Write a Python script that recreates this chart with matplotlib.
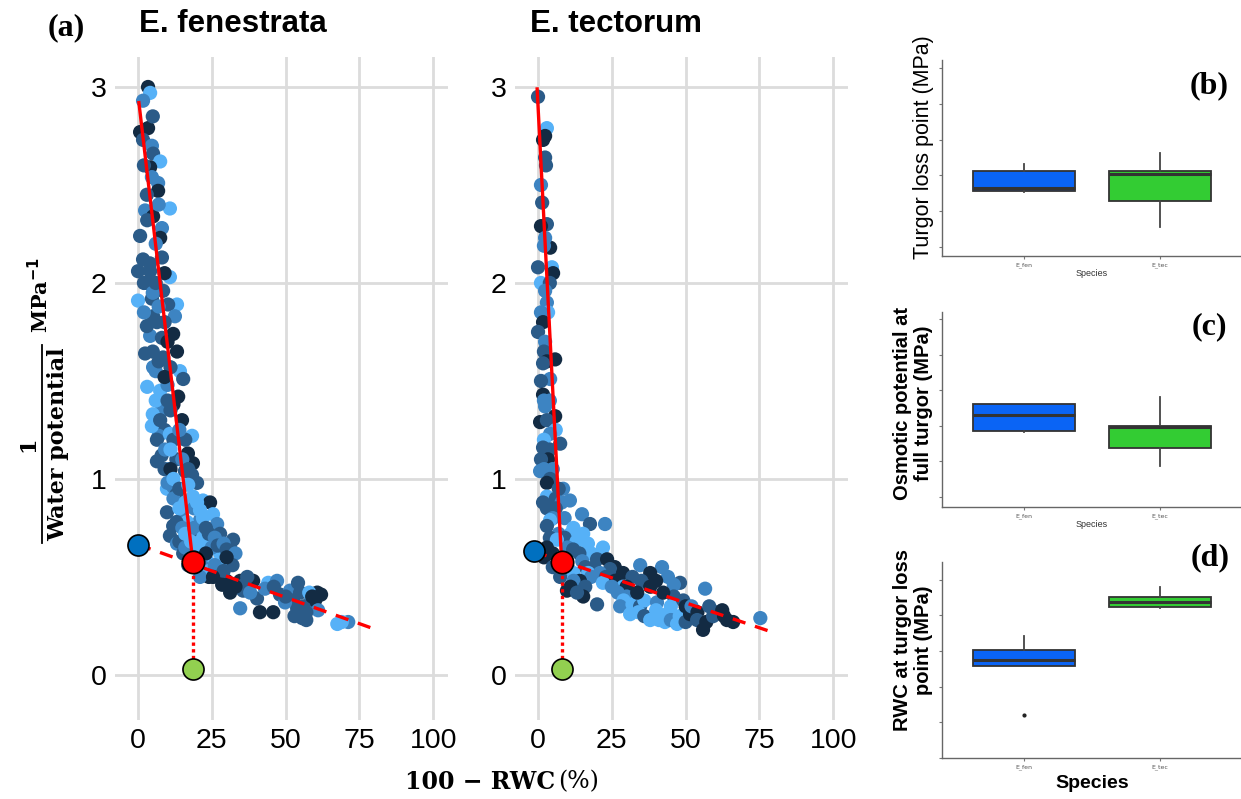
import numpy as np
import matplotlib
matplotlib.use("Agg")
import matplotlib.pyplot as plt

# pressure-volume curve points: (100 - RWC, 1/WP, shade)
fen_pts = [
    (3.4, 3.00, 0), (4.1, 2.97, 3), (1.7, 2.93, 2), (0.7, 2.77, 0), (3.4, 2.79, 0),
    (1.7, 2.73, 1), (4.7, 2.70, 2), (5.1, 2.66, 1), (7.5, 2.62, 3), (4.1, 2.59, 0),
    (4.7, 2.54, 2), (6.8, 2.51, 2), (6.8, 2.47, 0), (10.8, 2.38, 3), (2.4, 2.37, 2),
    (5.1, 2.34, 0), (3.1, 2.32, 1), (8.1, 2.28, 2), (0.7, 2.24, 1), (7.5, 2.23, 0),
    (8.1, 2.13, 1), (1.7, 2.12, 1), (0.0, 2.06, 1), (4.1, 2.06, 1), (3.1, 2.00, 1),
    (10.8, 2.03, 3), (8.5, 1.96, 1), (0.0, 1.91, 3), (4.7, 1.92, 1), (13.2, 1.89, 3),
    (10.2, 1.89, 1), (5.1, 1.83, 1), (12.5, 1.83, 2), (6.4, 1.80, 1), (11.9, 1.74, 0),
    (4.1, 1.73, 2), (8.1, 1.72, 1), (13.2, 1.65, 0), (2.4, 1.64, 1), (8.5, 1.62, 1),
    (5.1, 1.57, 2), (14.2, 1.55, 3), (15.3, 1.51, 1), (3.1, 1.47, 3), (7.5, 1.45, 3),
    (13.6, 1.42, 0), (3.0, 2.45, 1), (6.0, 2.20, 2), (2.0, 2.00, 1), (9.0, 2.05, 0),
    (7.0, 1.88, 2), (11.0, 1.57, 1), (10.0, 1.48, 2), (8.0, 1.35, 2), (9.0, 1.25, 1),
    (12.0, 1.38, 0), (6.0, 1.40, 3), (5.0, 2.85, 1), (2.0, 2.60, 1), (7.0, 2.40, 2),
    (4.0, 2.10, 1), (5.0, 1.95, 2), (6.0, 2.00, 1), (9.0, 1.80, 1), (10.0, 1.70, 0),
    (2.0, 1.85, 2), (3.0, 1.78, 1), (5.0, 1.65, 1), (6.0, 1.55, 2), (7.0, 1.60, 1),
    (9.0, 1.52, 0), (10.0, 1.40, 1), (5.0, 1.33, 3), (7.0, 1.22, 2), (8.0, 1.12, 1),
    (4.7, 1.27, 3), (7.5, 1.30, 1), (14.9, 1.30, 0), (6.4, 1.20, 1), (10.8, 1.23, 3),
    (18.3, 1.22, 3), (6.4, 1.09, 1), (9.2, 1.15, 2), (16.9, 1.13, 0), (18.6, 1.08, 0),
    (10.2, 1.05, 3), (15.9, 1.04, 1), (18.3, 1.02, 1), (20.0, 0.98, 1), (9.8, 0.95, 3),
    (11.9, 0.96, 2), (22.0, 0.89, 3), (18.6, 0.91, 3), (24.4, 0.88, 0), (9.8, 0.83, 1),
    (14.9, 0.84, 2), (25.4, 0.82, 3), (21.0, 0.79, 2), (11.9, 0.76, 1), (16.6, 0.78, 3),
    (26.8, 0.77, 2), (10.8, 0.71, 1), (21.0, 0.72, 1), (27.8, 0.72, 1), (32.2, 0.69, 1),
    (31.2, 0.65, 1), (13.2, 0.67, 2), (23.4, 0.67, 3), (15.3, 0.62, 1), (27.8, 0.62, 3),
    (31.2, 0.57, 2), (23.4, 0.58, 3), (12.0, 1.20, 1), (13.0, 1.10, 1), (11.0, 1.15, 3),
    (16.0, 1.20, 1), (15.0, 1.10, 2), (17.0, 1.05, 1), (14.0, 1.25, 2), (11.0, 1.35, 1),
    (9.0, 1.05, 1), (10.0, 0.98, 2), (11.0, 1.05, 0), (12.0, 1.00, 3), (13.0, 0.92, 1),
    (12.0, 0.90, 2), (14.0, 0.95, 1), (16.0, 0.88, 3), (19.0, 0.85, 2), (17.0, 0.97, 3),
    (14.0, 0.85, 3), (13.0, 0.78, 1), (15.0, 0.75, 2), (14.0, 0.68, 1), (16.0, 0.65, 2),
    (16.0, 0.72, 3), (19.0, 0.75, 2), (22.0, 0.70, 3), (25.0, 0.65, 2), (20.0, 0.65, 3),
    (18.0, 0.68, 3), (20.0, 0.88, 3), (21.0, 0.84, 3), (22.0, 0.80, 3), (23.0, 0.75, 1),
    (24.0, 0.72, 1), (26.0, 0.70, 2), (27.0, 0.66, 1), (29.0, 0.67, 2), (30.0, 0.64, 1),
    (33.0, 0.62, 2), (32.0, 0.56, 1), (27.0, 0.52, 0), (24.0, 0.50, 0), (30.0, 0.48, 0),
    (23.0, 0.62, 0), (28.0, 0.58, 3), (30.0, 0.60, 0), (19.0, 0.60, 1), (17.0, 0.56, 1),
    (22.0, 0.55, 2), (24.0, 0.53, 3), (26.0, 0.56, 2), (29.0, 0.53, 1),
    (21.0, 0.50, 2), (25.4, 0.50, 0), (28.5, 0.46, 0), (31.2, 0.42, 0), (34.6, 0.48, 0),
    (39.0, 0.48, 0), (35.6, 0.43, 1), (40.3, 0.39, 1), (34.6, 0.34, 2), (41.3, 0.32, 0),
    (45.8, 0.32, 0), (44.1, 0.47, 3), (47.1, 0.48, 2), (48.1, 0.41, 1), (51.5, 0.43, 2),
    (54.2, 0.47, 1), (52.5, 0.38, 1), (53.9, 0.34, 1), (55.6, 0.29, 1), (58.3, 0.37, 2),
    (60.7, 0.42, 0), (60.0, 0.38, 0), (61.0, 0.33, 2), (54.9, 0.42, 1), (67.5, 0.26, 3),
    (71.2, 0.27, 2), (49.8, 0.37, 2), (36.0, 0.46, 1), (38.0, 0.42, 2), (57.0, 0.32, 1),
    (58.0, 0.42, 3), (33.0, 0.45, 0), (37.0, 0.50, 1), (43.0, 0.44, 2), (46.0, 0.45, 1),
    (50.0, 0.40, 1), (56.0, 0.35, 1), (59.0, 0.40, 0), (62.0, 0.41, 0), (53.0, 0.30, 1),
    (57.0, 0.28, 1), (69.0, 0.27, 3),
]

tec_pts = [
    (0.0, 2.95, 1), (3.0, 2.79, 3), (2.4, 2.75, 0), (1.7, 2.73, 0), (2.4, 2.64, 1),
    (2.7, 2.60, 1), (1.0, 2.50, 2), (1.4, 2.41, 1), (3.0, 2.30, 1), (1.0, 2.29, 0),
    (4.1, 2.18, 0), (2.0, 2.19, 2), (2.4, 2.23, 2), (0.0, 2.08, 1), (4.7, 2.08, 3),
    (5.1, 2.05, 0), (1.0, 2.00, 3), (4.0, 2.00, 1), (2.4, 1.96, 2), (3.0, 1.90, 2),
    (3.4, 1.85, 3), (1.0, 1.85, 2), (1.7, 1.80, 0), (0.0, 1.75, 1), (2.4, 1.70, 2),
    (2.0, 1.65, 1), (5.8, 1.61, 0), (3.0, 1.60, 0), (1.7, 1.59, 1), (4.1, 1.51, 2),
    (1.0, 1.50, 1), (1.7, 1.43, 0), (4.0, 1.40, 2), (2.0, 1.40, 2), (2.4, 1.37, 2),
    (0.7, 1.29, 0), (5.8, 1.32, 0), (3.0, 1.30, 1), (6.0, 1.25, 3), (4.1, 1.23, 2),
    (2.0, 1.20, 3), (7.5, 1.18, 1), (1.7, 1.16, 1), (4.0, 1.15, 1), (3.4, 1.10, 0),
    (1.0, 1.10, 1), (5.0, 1.05, 2), (2.0, 1.05, 2), (0.7, 1.04, 2), (4.1, 1.00, 1),
    (3.0, 0.98, 0), (8.5, 0.95, 2), (7.0, 0.95, 1), (3.0, 0.91, 3), (6.0, 0.90, 1),
    (10.8, 0.89, 2), (8.0, 0.88, 2), (1.7, 0.88, 1), (6.0, 0.85, 1), (3.0, 0.85, 1),
    (14.9, 0.82, 2), (5.0, 0.80, 2), (9.0, 0.80, 2), (17.6, 0.77, 1), (22.7, 0.77, 2),
    (4.1, 0.79, 3), (3.0, 0.76, 1), (12.0, 0.75, 3), (15.3, 0.72, 3), (7.0, 0.72, 2),
    (11.0, 0.72, 3), (4.0, 0.70, 1), (9.0, 0.70, 1), (16.9, 0.67, 3), (13.0, 0.68, 3),
    (22.0, 0.65, 3), (6.4, 0.69, 3), (3.0, 0.65, 0), (10.0, 0.65, 2), (11.9, 0.64, 1),
    (18.0, 0.62, 3), (14.0, 0.62, 1), (5.0, 0.62, 0), (2.0, 0.60, 0), (8.0, 0.60, 2),
    (20.0, 0.59, 1), (23.4, 0.59, 0), (15.0, 0.58, 2), (10.0, 0.55, 1), (16.0, 0.55, 1),
    (19.0, 0.55, 1), (5.0, 0.55, 1), (26.0, 0.55, 0), (24.4, 0.54, 1), (12.0, 0.52, 3),
    (17.0, 0.52, 3), (21.0, 0.52, 2), (28.8, 0.52, 0), (34.6, 0.56, 2), (42.0, 0.55, 2),
    (38.0, 0.52, 0), (32.0, 0.50, 1), (44.0, 0.50, 2), (23.0, 0.50, 1), (48.1, 0.47, 1),
    (56.6, 0.44, 2), (7.5, 0.50, 1), (18.0, 0.50, 2), (14.2, 0.48, 0), (12.0, 0.48, 2),
    (26.0, 0.48, 0), (35.0, 0.48, 1), (40.0, 0.48, 0), (22.0, 0.47, 3), (46.0, 0.46, 2),
    (28.8, 0.45, 3), (25.0, 0.45, 2), (16.0, 0.45, 1), (11.0, 0.45, 0), (30.0, 0.45, 0),
    (9.8, 0.43, 0), (15.3, 0.40, 0), (13.2, 0.42, 1), (27.0, 0.42, 2), (46.0, 0.40, 1),
    (20.0, 0.36, 1), (30.0, 0.40, 2), (29.0, 0.38, 3), (27.8, 0.35, 2), (32.0, 0.36, 3),
    (31.2, 0.31, 3), (34.6, 0.35, 1), (34.0, 0.32, 3), (36.0, 0.30, 1), (36.0, 0.38, 3),
    (38.0, 0.28, 3), (40.3, 0.37, 2), (40.0, 0.33, 3), (41.0, 0.28, 3), (43.7, 0.31, 3),
    (43.0, 0.27, 3), (45.0, 0.35, 3), (45.0, 0.28, 2), (47.1, 0.26, 3), (48.0, 0.30, 3),
    (42.4, 0.42, 0), (38.0, 0.45, 0), (33.6, 0.42, 0), (49.2, 0.38, 1), (50.0, 0.35, 0),
    (50.0, 0.27, 1), (51.5, 0.31, 0), (52.0, 0.35, 2), (54.0, 0.32, 0), (53.9, 0.28, 1),
    (55.9, 0.23, 0), (57.0, 0.27, 0), (58.0, 0.35, 1), (59.3, 0.30, 1), (60.0, 0.32, 1),
    (62.4, 0.33, 0), (63.0, 0.30, 0), (64.0, 0.28, 0), (66.1, 0.27, 0), (75.3, 0.29, 2),
]

# fitted lines: turgor-loss point, full-turgor intercept, end of linear part
fen_tlp = (18.6, 0.575)
fen_top = (0.3, 2.92)
fen_int = (0.0, 0.665)
fen_end = (79.0, 0.24)
tec_tlp = (8.0, 0.575)
tec_top = (-0.3, 2.99)
tec_int = (-1.4, 0.63)
tec_end = (79.0, 0.22)
green_y = 0.03

shades = ["#132b43", "#2b5b88", "#3d84c2", "#56b1f7"]

# box-plot summaries (panels b, c, d), in arbitrary axis units
species = ["E_fen", "E_tec"]
tlp_box = [(1.54, 1.56, 1.65, 2.12, 2.32), (0.56, 1.28, 2.04, 2.12, 2.63)]
opft_box = [(1.83, 1.85, 2.30, 2.61, 2.61), (0.87, 1.38, 1.97, 1.99, 2.81)]
rwc_box = [(2.58, 2.58, 2.75, 3.03, 3.42), (4.20, 4.23, 4.37, 4.51, 4.79)]
rwc_fliers = [[1.20], []]
box_colors = ["#0a64f5", "#33cc33"]

W, H = 1241, 799
fig = plt.figure(figsize=(W / 100, H / 100), dpi=100)


def fpos(x0, y0, x1, y1):
    # pixel box -> figure fraction rect
    return [x0 / W, 1 - y1 / H, (x1 - x0) / W, (y1 - y0) / H]


def pv_panel(rect, pts, top, tlp, icpt, end, title, tx):
    ax = fig.add_axes(rect)
    d = np.array(pts)
    cols = [shades[int(c)] for c in d[:, 2]]
    ax.scatter(d[:, 0], d[:, 1], s=105, c=cols, linewidths=0, zorder=2)
    ax.plot([top[0], tlp[0]], [top[1], tlp[1]], color="red", lw=2.4, zorder=3)
    ax.plot([icpt[0], end[0]], [icpt[1], end[1]], color="red", lw=2.4,
            ls=(0, (4, 3)), zorder=3)
    ax.plot([tlp[0], tlp[0]], [tlp[1], green_y], color="red", lw=2.4,
            ls=(0, (1, 1)), zorder=3)
    ax.scatter([icpt[0]], [icpt[1]], s=230, color="#0070c0", edgecolors="black",
               linewidths=1.2, zorder=4)
    ax.scatter([tlp[0]], [tlp[1]], s=260, color="#ff0000", edgecolors="black",
               linewidths=1.2, zorder=4)
    ax.scatter([tlp[0]], [green_y], s=230, color="#92d050", edgecolors="black",
               linewidths=1.2, zorder=4)
    ax.set_xlim(-7.8, 105)
    ax.set_ylim(-0.23, 3.153)
    ax.set_xticks([0, 25, 50, 75, 100])
    ax.set_yticks([0, 1, 2, 3])
    ax.grid(True, color="#dcdcdc", lw=2)
    ax.set_axisbelow(True)
    for s in ax.spines.values():
        s.set_visible(False)
    ax.tick_params(length=0, labelsize=20.5, pad=6)
    for lab in ax.get_xticklabels() + ax.get_yticklabels():
        lab.set_family("Liberation Sans")
    fig.text(tx / W, 1 - 24 / H, title, fontsize=22.5, fontweight="bold",
             family="Liberation Sans", ha="left", va="center")
    return ax


pv_panel(fpos(115, 57, 448, 720), fen_pts, fen_top, fen_tlp, fen_int, fen_end,
         "E. fenestrata", 139)
pv_panel(fpos(515, 57, 848, 720), tec_pts, tec_top, tec_tlp, tec_int, tec_end,
         "E. tectorum", 530)

fig.text(66 / W, 1 - 28 / H, "(a)", fontsize=23, fontweight="bold",
         family="Liberation Serif", ha="center", va="center")

# y label: 1 / Water potential  MPa^-1
fig.text(28 / W, 1 - 444 / H, "1", fontsize=16, fontweight="bold",
         family="DejaVu Serif", rotation=90, ha="center", va="center")
fig.add_artist(plt.Line2D([42 / W, 42 / W], [1 - 345 / H, 1 - 543 / H],
                          color="black", lw=1.3))
fig.text(58 / W, 1 - 444 / H, "Water potential", fontsize=16, fontweight="bold",
         family="DejaVu Serif", rotation=90, ha="center", va="center")
fig.text(40 / W, 1 - 295 / H, r"MPa$^{\mathbf{-1}}$", fontsize=15, fontweight="bold",
         family="DejaVu Serif", rotation=90, ha="center", va="center")

# x label
fig.text(555 / W, 1 - 782 / H, "100 \u2212 RWC", fontsize=17, fontweight="bold",
         family="DejaVu Serif", ha="right", va="center")
fig.text(558 / W, 1 - 782 / H, "(%)", fontsize=17, family="DejaVu Serif",
         ha="left", va="center")


def box_panel(rect, boxes, ylim, ylabel, lab_xy, lab_kw, tag, tag_xy,
              big_species=False, fliers=None):
    ax = fig.add_axes(rect)
    stats = []
    for i, b in enumerate(boxes):
        stats.append(dict(whislo=b[0], q1=b[1], med=b[2], q3=b[3], whishi=b[4],
                          fliers=fliers[i] if fliers else []))
    bp = ax.bxp(stats, positions=[1, 2], widths=0.75, patch_artist=True,
                showcaps=False,
                boxprops=dict(edgecolor="#333333", lw=1.3),
                medianprops=dict(color="#333333", lw=2.2),
                whiskerprops=dict(color="#444444", lw=1.3),
                flierprops=dict(marker="o", markersize=2, markerfacecolor="#222222",
                                markeredgecolor="#222222"))
    for patch, c in zip(bp["boxes"], box_colors):
        patch.set_facecolor(c)
    ax.set_xlim(0.4, 2.6)
    ax.set_ylim(*ylim)
    ax.set_yticks([0, 1, 2, 3, 4, 5])
    ax.set_yticklabels([])
    ax.set_xticks([1, 2])
    ax.set_xticklabels(species, fontsize=4.5, color="#555555")
    ax.tick_params(length=2.5, color="#777777", width=0.8, pad=2)
    for s in ("top", "right"):
        ax.spines[s].set_visible(False)
    for s in ("left", "bottom"):
        ax.spines[s].set_color("#666666")
        ax.spines[s].set_linewidth(1.0)
    if big_species:
        ax.set_xlabel("Species", fontsize=14, fontweight="bold",
                      family="Liberation Sans", labelpad=4)
    else:
        ax.set_xlabel("Species", fontsize=6.5, color="#333333",
                      family="Liberation Sans", labelpad=1)
    fig.text(lab_xy[0] / W, 1 - lab_xy[1] / H, ylabel, rotation=90, ha="center",
             va="center", family="Liberation Sans", multialignment="center",
             linespacing=1.15, **lab_kw)
    fig.text(tag_xy[0] / W, 1 - tag_xy[1] / H, tag, fontsize=23, fontweight="bold",
             family="Liberation Serif", ha="center", va="center")
    return ax


box_panel(fpos(942, 60, 1242, 256), tlp_box, (-0.25, 5.22),
          "Turgor loss point (MPa)", (923, 147), dict(fontsize=15.5),
          "(b)", (1209, 86))
box_panel(fpos(942, 312, 1242, 507), opft_box, (-0.28, 5.2),
          "Osmotic potential at\nfull turgor (MPa)", (913, 403),
          dict(fontsize=14.5, fontweight="bold"), "(c)", (1209, 327))
box_panel(fpos(942, 562, 1242, 758), rwc_box, (0, 5.5),
          "RWC at turgor loss\npoint (MPa)", (913, 640),
          dict(fontsize=14.5, fontweight="bold"), "(d)", (1210, 558),
          big_species=True, fliers=rwc_fliers)

fig.savefig("out.png", dpi=100, facecolor="white")
